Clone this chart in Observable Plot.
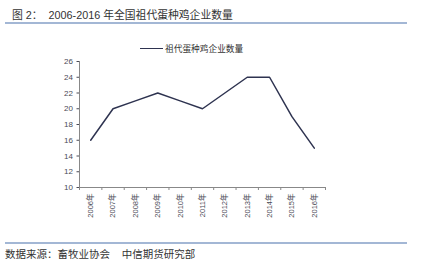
<!DOCTYPE html>
<html>
<head>
<meta charset="utf-8">
<script src="https://cdn.jsdelivr.net/npm/d3@7"></script>
<script src="https://cdn.jsdelivr.net/npm/@observablehq/plot@0.6"></script>
<style>
  html, body { margin: 0; padding: 0; background: #fff; }
  body { width: 425px; height: 264px; position: relative; overflow: hidden;
         font-family: "Liberation Sans", "Noto Sans CJK SC", sans-serif; }
  #title { position: absolute; left: 12px; top: 6px; font-size: 10.8px; color: #333; white-space: pre; }
  .rule { position: absolute; left: 5px; width: 402px; height: 2px; background: #a3b7d5; }
  #legend { position: absolute; left: 140px; top: 42px; font-size: 8.7px; color: #333; display: flex; align-items: center; white-space: pre; }
  #legend .sw { display: inline-block; width: 23px; height: 1.5px; background: #2e3350; margin-right: 2px; }
  #chart { position: absolute; left: 0; top: 55px; }
  #caption { position: absolute; left: 5px; top: 246px; font-size: 10.5px; color: #333; white-space: pre; }
</style>
</head>
<body>
<div id="title">图 2：  2006-2016 年全国祖代蛋种鸡企业数量</div>
<div class="rule" style="top:22px"></div>
<div id="legend"><span class="sw"></span><span>祖代蛋种鸡企业数量</span></div>
<div id="chart"></div>
<div class="rule" style="top:242px"></div>
<div id="caption">数据来源：畜牧业协会    中信期货研究部</div>
<script>
const years = ["2006年","2007年","2008年","2009年","2010年","2011年","2012年","2013年","2014年","2015年","2016年"];
const counts = [16, 20, 21, 22, 21, 20, 22, 24, 24, 19, 15];
const yTicks = [10, 12, 14, 16, 18, 20, 22, 24, 26];

const data = years.map((y, i) => ({i, year: y, value: counts[i]}));
const idx = years.map((_, i) => i);
const bounds = d3.range(years.length + 1).map(i => i - 0.5);

const chart = Plot.plot({
  width: 425,
  height: 175,
  marginTop: 6,
  marginBottom: 43,
  marginLeft: 79,
  marginRight: 100,
  style: { fontFamily: '"Liberation Sans", "Noto Sans CJK SC", sans-serif', fontSize: "8px", color: "#4a4a55", background: "transparent" },
  x: {
    type: "linear",
    domain: [-0.5, years.length - 0.5],
    ticks: idx,
    tickFormat: i => years[i],
    tickRotate: -90,
    tickSize: 0,
    tickPadding: 6,
    label: null
  },
  y: {
    domain: [10, 26],
    ticks: yTicks,
    tickSize: 2.5,
    tickPadding: 4,
    label: null
  },
  marks: [
    Plot.ruleX(bounds, {x: d => d, y1: 10, y2: 10, insetBottom: -3, stroke: "#888"}),
    Plot.ruleY([10], {stroke: "#888"}),
    Plot.ruleX([-0.5], {y1: 10, y2: 26, stroke: "#888"}),
    Plot.line(data, {x: "i", y: "value", stroke: "#2e3350", strokeWidth: 1.5})
  ]
});
chart.querySelectorAll('g[aria-label="x-axis"] text, g[aria-label="x-axis tick label"] text').forEach(t => t.style.fontSize = "7.5px");
document.getElementById("chart").appendChild(chart);
</script>
</body>
</html>
